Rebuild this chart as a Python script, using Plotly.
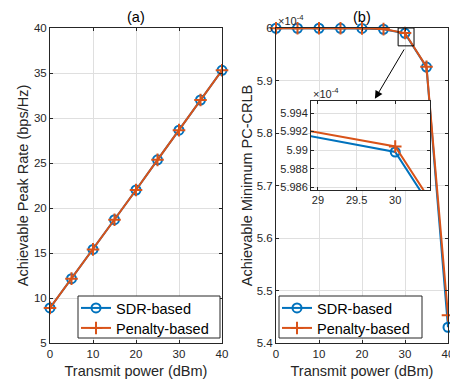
import plotly.graph_objects as go

# Transmit power sweep (dBm)
power_dbm = [0, 5, 10, 15, 20, 25, 30, 35, 40]

# (a) achievable peak rate (bps/Hz)
rate_sdr = [8.9, 12.15, 15.4, 18.7, 22.0, 25.35, 28.65, 32.0, 35.3]
rate_penalty = [8.9, 12.15, 15.4, 18.7, 22.0, 25.35, 28.65, 32.0, 35.3]

# (b) achievable minimum PC-CRLB, in units of 1e-4
crlb_sdr_e4 = [5.9995, 5.9995, 5.9995, 5.9994, 5.9992, 5.9976, 5.9898, 5.9255, 5.430]
crlb_penalty_e4 = [5.9996, 5.9996, 5.9996, 5.9995, 5.9993, 5.9979, 5.9904, 5.9260, 5.453]

legend_names = ["SDR-based", "Penalty-based"]
rate_ticks = [5, 10, 15, 20, 25, 30, 35, 40]
crlb_ticks = [5.4, 5.5, 5.6, 5.7, 5.8, 5.9, 6.0]
crlb_tick_text = ["5.4", "5.5", "5.6", "5.7", "5.8", "5.9", "6"]
inset_x_ticks = [29, 29.5, 30]
inset_y_ticks = [5.986, 5.988, 5.990, 5.992, 5.994]
inset_y_text = ["5.986", "5.988", "5.99", "5.992", "5.994"]

BLUE = "#0072BD"
ORANGE = "#D95319"
INK = "#262626"
GRID = "#DFDFDF"
FONT = "Liberation Sans, Arial, Helvetica, sans-serif"

W, H = 450, 379


def px_x(p):
    return p / W


def px_y(p):
    return 1 - p / H


fig = go.Figure()


def add_pair(xa, ya, y1, y2, legends, show=True):
    fig.add_trace(go.Scatter(
        x=power_dbm, y=y1, xaxis=xa, yaxis=ya, name=legend_names[0],
        mode="lines+markers", cliponaxis=False, showlegend=show, legend=legends[0],
        line=dict(color=BLUE, width=2),
        marker=dict(symbol="circle-open", size=9, color=BLUE, line=dict(width=2)),
    ))
    fig.add_trace(go.Scatter(
        x=power_dbm, y=y2, xaxis=xa, yaxis=ya, name=legend_names[1],
        mode="lines+markers", cliponaxis=False, showlegend=show, legend=legends[1],
        line=dict(color=ORANGE, width=2),
        marker=dict(symbol="cross-thin-open", size=9, color=ORANGE, line=dict(width=2, color=ORANGE)),
    ))


add_pair("x", "y", rate_sdr, rate_penalty, ("legend", "legend2"))
add_pair("x2", "y2", crlb_sdr_e4, crlb_penalty_e4, ("legend3", "legend4"))
add_pair("x3", "y3", crlb_sdr_e4, crlb_penalty_e4, ("legend", "legend"), show=False)

axis_common = dict(
    showline=True, linecolor=INK, linewidth=1, mirror="ticks",
    ticks="inside", ticklen=3, tickcolor=INK, tickwidth=1,
    showgrid=True, gridcolor=GRID, gridwidth=1, zeroline=False, automargin=False,
    tickfont=dict(family=FONT, size=11.5, color=INK),
)
inset_axis = {**axis_common, "tickfont": dict(family=FONT, size=11, color=INK)}
title_font = dict(family=FONT, size=14.5, color=INK)


def legend_row(x_left, y_mid):
    # one legend entry per row so the two rows sit as tightly as in a MATLAB legend
    return dict(x=px_x(x_left), y=px_y(y_mid), xanchor="left", yanchor="middle",
                bgcolor="rgba(0,0,0,0)", borderwidth=0,
                font=dict(family=FONT, size=14.5, color="black"))


fig.update_layout(
    width=W, height=H, margin=dict(l=0, r=0, t=0, b=0, autoexpand=False),
    paper_bgcolor="white", plot_bgcolor="white",
    font=dict(family=FONT, color=INK),
    xaxis=dict(domain=[px_x(50), px_x(222)], range=[0, 40], dtick=10, anchor="y",
               title=dict(text="Transmit power (dBm)", font=title_font, standoff=8), **axis_common),
    yaxis=dict(domain=[px_y(343), px_y(28)], range=[5, 40], tickvals=rate_ticks, anchor="x",
               title=dict(text="Achievable Peak Rate (bps/Hz)", font=title_font, standoff=1), **axis_common),
    xaxis2=dict(domain=[px_x(276), px_x(448)], range=[0, 40], dtick=10, anchor="y2",
                ticklabeloverflow="allow",
                title=dict(text="Transmit power (dBm)", font=title_font, standoff=8), **axis_common),
    yaxis2=dict(domain=[px_y(343), px_y(28)], range=[5.4, 6.0], tickvals=crlb_ticks,
                ticktext=crlb_tick_text, anchor="x2",
                title=dict(text="Achievable Minimum PC-CRLB", font=title_font, standoff=0), **axis_common),
    xaxis3=dict(domain=[px_x(311), px_x(430)], range=[28.91, 30.45], tickvals=inset_x_ticks,
                anchor="y3", **inset_axis),
    yaxis3=dict(domain=[px_y(190), px_y(101)], range=[5.9857, 5.9953], tickvals=inset_y_ticks,
                ticktext=inset_y_text, anchor="x3", **inset_axis),
    legend=legend_row(76, 308),
    legend2=legend_row(76, 328),
    legend3=legend_row(277, 308),
    legend4=legend_row(277, 328),
)

# legend frames
for x0, x1 in [(78, 220), (279, 422)]:
    fig.add_shape(type="rect", xref="paper", yref="paper", layer="above",
                  x0=px_x(x0), x1=px_x(x1), y0=px_y(338), y1=px_y(296),
                  fillcolor="white", line=dict(color=INK, width=1))

# zoom window around the 30 dBm point, and the arrow to the inset
fig.add_shape(type="rect", xref="x2", yref="y2", x0=28.4, x1=32.1, y0=5.966, y1=6.0,
              line=dict(color="black", width=1))
fig.add_annotation(xref="x2", yref="y2", x=23.0, y=5.865, axref="x2", ayref="y2",
                   ax=30.0, ay=5.962, text="", showarrow=True, arrowhead=2,
                   arrowsize=1.6, arrowwidth=1, arrowcolor="black")

panel_titles = [
    dict(text="(a)", x=px_x(136), y=px_y(17)),
    dict(text="(b)", x=px_x(362), y=px_y(17)),
]
for a in panel_titles:
    fig.add_annotation(xref="paper", yref="paper", x=a["x"], y=a["y"], text=a["text"],
                       showarrow=False, font=dict(family=FONT, size=14.5, color="black"),
                       xanchor="center", yanchor="middle")

# axis exponent labels
for xa, ya in [("x2 domain", "y2 domain"), ("x3 domain", "y3 domain")]:
    fig.add_annotation(xref=xa, yref=ya, x=0.0, y=1.0, text="×10<sup>-4</sup>",
                       showarrow=False, xanchor="left", yanchor="bottom", yshift=-1,
                       font=dict(family=FONT, size=11, color=INK))

fig.write_html("out.html")
